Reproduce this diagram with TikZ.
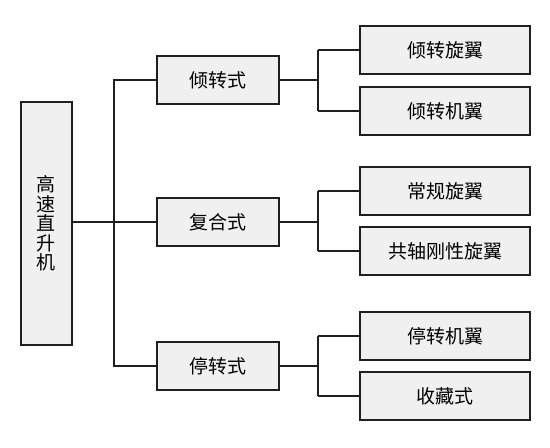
\documentclass[tikz,border=0pt]{standalone}
\usepackage{fontspec}
\newfontfamily\cjk{Noto Sans CJK SC}
\begin{document}
\begin{tikzpicture}[x=1pt,y=-1pt,
  box/.style={draw=black!88,line width=1.6pt,fill=black!6,inner sep=0pt,font=\cjk\fontsize{19}{23}\selectfont},
  link/.style={draw=black!88,line width=1.6pt}]
\useasboundingbox (0,0) rectangle (550,448);
\node[box,minimum width=51pt,minimum height=243pt,align=center,font=\cjk\fontsize{19}{19.5}\selectfont] (root) at (46.5,223.5) {高\\速\\直\\升\\机};
\node[box,minimum width=122pt,minimum height=48pt] (a) at (218,80) {倾转式};
\node[box,minimum width=122pt,minimum height=48pt] (b) at (218,222) {复合式};
\node[box,minimum width=122pt,minimum height=48pt] (c) at (218,366) {停转式};
\node[box,minimum width=170pt,minimum height=48pt] (a1) at (445,50) {倾转旋翼};
\node[box,minimum width=170pt,minimum height=48pt] (a2) at (445,111) {倾转机翼};
\node[box,minimum width=170pt,minimum height=48pt] (b1) at (445,191) {常规旋翼};
\node[box,minimum width=170pt,minimum height=48pt] (b2) at (445,251) {共轴刚性旋翼};
\node[box,minimum width=170pt,minimum height=48pt] (c1) at (445,336) {停转机翼};
\node[box,minimum width=170pt,minimum height=48pt] (c2) at (445,396) {收藏式};
\coordinate (t) at (114,222);
\draw[link] (root.east |- t) -- (t);
\draw[link] (t) |- (a.west);
\draw[link] (t) |- (c.west);
\draw[link] (t) -- (b.west);
\foreach \p/\u/\v in {a/a1/a2,b/b1/b2,c/c1/c2}{
  \coordinate (\p m) at (318,0);
  \draw[link] (\p.east) -- (\p m |- \p.east);
  \draw[link] (\p m |- \u.west) -- (\u.west);
  \draw[link] (\p m |- \v.west) -- (\v.west);
  \draw[link] (\p m |- \u.west) -- (\p m |- \v.west);
}
\end{tikzpicture}
\end{document}
